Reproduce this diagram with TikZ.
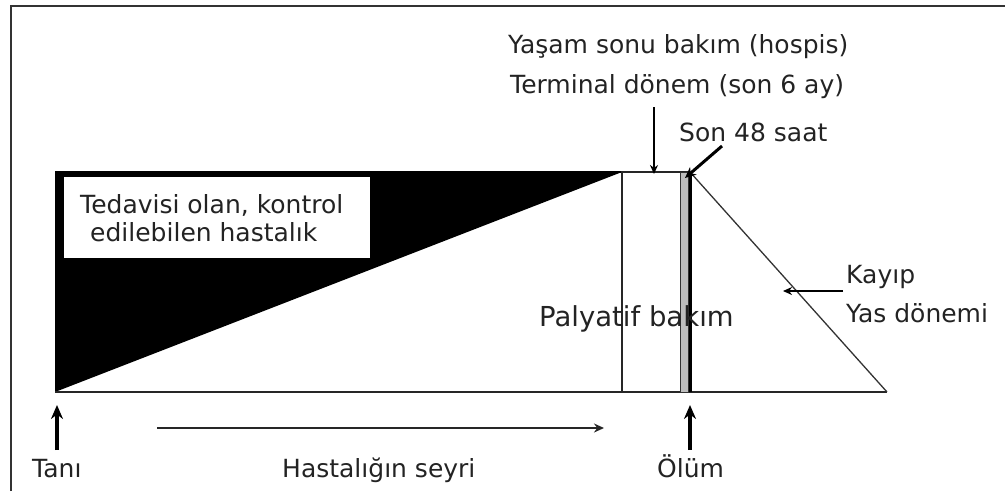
\documentclass[tikz,border=0pt]{standalone}
\usepackage{fontspec}
\setmainfont{DejaVu Sans}
\usetikzlibrary{arrows.meta}
\definecolor{txt}{RGB}{35,35,35}
\definecolor{bargrey}{RGB}{190,190,190}
\tikzset{
  lbl/.style={anchor=base west, inner sep=0pt, text=txt, font=\fontsize{25}{30}\selectfont},
  biglbl/.style={anchor=base west, inner sep=0pt, text=txt, font=\fontsize{27.5}{32}\selectfont},
  thinline/.style={draw=black!85, line width=2pt},
  pointer/.style={draw=black, line width=1.8pt, -{Stealth[length=9pt,width=8pt]}},
  bigpointer/.style={draw=black, line width=3.6pt, -{Stealth[length=14pt,width=12pt]}},
}
\begin{document}
\begin{tikzpicture}[x=1pt,y=-1pt]
\useasboundingbox (0,0) rectangle (1005,491);
% frame
\draw[draw=black!80, line width=2.6pt] (11,491) -- (11,6) -- (1005,6);
% black triangle
\coordinate (tl) at (55,172);
\coordinate (tr) at (622,172);
\coordinate (bl) at (55,392);
\fill[black] (tl) -- (tr) -- (bl) -- cycle;
\draw[black, line width=2pt] (tl) -- (tr);
% white label box inside triangle
\fill[white] (64,177) rectangle (370,258);
\node[lbl] (ted1) at (80,213) {Tedavisi olan, kontrol};
\node[lbl] (ted2) at (90,241) {edilebilen hastalık};
% palliative box
\coordinate (pt) at (690,172);
\coordinate (end) at (887,392);
\draw[thinline] (bl) -- (end);
\draw[thinline] (622,392) -- (622,172) -- (690,172);
% grey bar (last 48 h)
\filldraw[fill=bargrey, draw=black!80, line width=1pt] (680,172) rectangle (688,392);
\draw[black, line width=3.5pt] (690.5,172) -- (690.5,392);
% bereavement diagonal
\draw[draw=black!80, line width=1.3pt] (pt) -- (end);
% labels
\node[lbl] (hosp) at (508,53) {Yaşam sonu bakım (hospis)};
\node[lbl] (term) at (510,93) {Terminal dönem (son 6 ay)};
\node[lbl] (son48) at (679,141) {Son 48 saat};
\node[lbl] (kayip) at (846,283) {Kayıp};
\node[lbl] (yas) at (846,322) {Yas dönemi};
\node[biglbl] (pal) at (539,326) {Palyatif bakım};
\node[lbl] (tani) at (32,477) {Tanı};
\node[lbl] (seyir) at (282,477) {Hastalığın seyri};
\node[lbl] (olum) at (657,477) {Ölüm};
% arrows
\coordinate (termA) at (654,107);
\coordinate (termB) at (654,174);
\draw[pointer] (termA) -- (termB);
\coordinate (s48A) at (722,146);
\coordinate (s48B) at (685,178);
\draw[draw=black, line width=3pt, -{Stealth[length=11pt,width=10pt]}] (s48A) -- (s48B);
\coordinate (kA) at (843,291);
\coordinate (kB) at (783,291);
\draw[pointer] (kA) -- (kB);
\coordinate (taniA) at (57,450);
\coordinate (taniB) at (57,405);
\draw[bigpointer] (taniA) -- (taniB);
\coordinate (olumA) at (690,450);
\coordinate (olumB) at (690,405);
\draw[bigpointer] (olumA) -- (olumB);
\coordinate (hsA) at (157,428);
\coordinate (hsB) at (604,428);
\draw[draw=black!85, line width=2.6pt, -{Stealth[length=10pt,width=9pt]}] (hsA) -- (hsB);
\end{tikzpicture}
\end{document}
